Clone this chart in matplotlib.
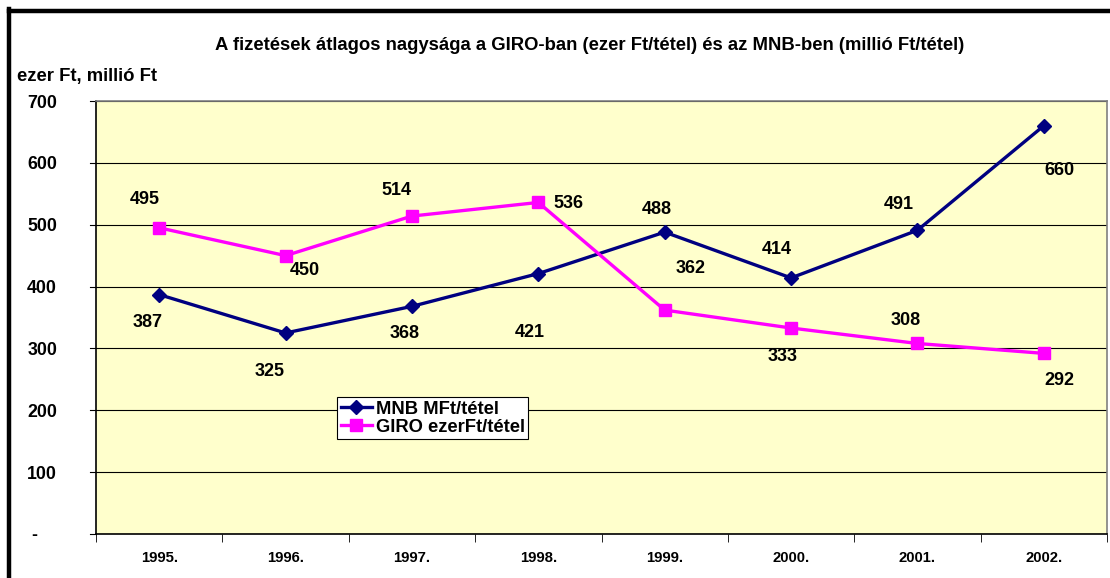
import matplotlib
matplotlib.use('Agg')
import matplotlib.pyplot as plt
from matplotlib.lines import Line2D
from matplotlib.transforms import ScaledTranslation

plt.rcParams['font.family'] = ['Liberation Sans', 'DejaVu Sans']
plt.rcParams['font.weight'] = 'bold'

years = ['1995.', '1996.', '1997.', '1998.', '1999.', '2000.', '2001.', '2002.']
mnb = [387, 325, 368, 421, 488, 414, 491, 660]
giro = [495, 450, 514, 536, 362, 333, 308, 292]
yticks = [0, 100, 200, 300, 400, 500, 600, 700]
ytick_labels = ['-', '100', '200', '300', '400', '500', '600', '700']

# label offsets in pixels (dx, dy) relative to the point, dy up
mnb_off = [(-12, -28), (-16, -39), (-7, -27), (-9, -59), (-8, 23), (-14, 28), (-19, 26), (16, -45)]
giro_off = [(-14, 28), (19, -15), (-16, 26), (30, -1), (26, 42), (-8, -28), (-12, 23), (16, -27)]

fig = plt.figure(figsize=(11.1, 5.78), dpi=100)
ax = fig.add_axes([96/1110, 1 - 534/578, 1011/1110, 433/578])
ax.set_facecolor('#FFFFCC')

x = list(range(len(years)))
ax.plot(x, mnb, color='#000080', lw=2.4, marker='D', ms=7, label='MNB MFt/tétel', zorder=3)
ax.plot(x, giro, color='#FF00FF', lw=2.4, marker='s', ms=8.5, label='GIRO ezerFt/tétel', zorder=3)

px = 0.72
for i in x:
    ax.annotate(str(mnb[i]), (i, mnb[i]), xytext=(mnb_off[i][0]*px, mnb_off[i][1]*px),
                textcoords='offset points', ha='center', va='center', fontsize=13, fontweight='bold')
    ax.annotate(str(giro[i]), (i, giro[i]), xytext=(giro_off[i][0]*px, giro_off[i][1]*px),
                textcoords='offset points', ha='center', va='center', fontsize=13, fontweight='bold')

ax.set_xlim(-0.5, len(years) - 0.5)
ax.set_ylim(0, 700)
ax.set_yticks(yticks)
ax.set_yticklabels(ytick_labels, fontsize=12.8, fontweight='bold')
ax.set_xticks(x)
ax.set_xticklabels(years, fontsize=10.7, fontweight='bold')
ax.tick_params(axis='x', length=0, pad=12)
ax.tick_params(axis='y', length=0, pad=28)
ax.set_xticks([i - 0.5 for i in range(len(years) + 1)], minor=True)
ax.tick_params(axis='x', which='minor', length=6, direction='out', color='black')
for yv in yticks:
    ax.plot([-0.5 - 0.048, -0.5], [yv, yv], color='black', lw=0.8, clip_on=False)
ax.grid(axis='y', color='black', lw=0.8)
ax.set_axisbelow(True)
for s in ['top', 'right']:
    ax.spines[s].set_color('#808080')
    ax.spines[s].set_linewidth(1.2)
for s in ['left', 'bottom']:
    ax.spines[s].set_color('black')
    ax.spines[s].set_linewidth(1.2)

for lab in ax.get_yticklabels():
    lab.set_horizontalalignment('right')
    if lab.get_text() == '-':
        lab.set_transform(lab.get_transform() + ScaledTranslation(-0.2, 0, fig.dpi_scale_trans))

leg = ax.legend(loc='upper left', bbox_to_anchor=((337-96)/1011, (534-397)/433),
                frameon=True, fancybox=False, edgecolor='black', facecolor='white',
                framealpha=1, fontsize=13.2, handlelength=1.7, handletextpad=0.2,
                borderpad=0.2, labelspacing=0.05, borderaxespad=0)
leg.get_frame().set_linewidth(0.8)
for t in leg.get_texts():
    t.set_fontweight('bold')

fig.text(590/1110, 1 - 46/578,
         'A fizetések átlagos nagysága a GIRO-ban (ezer Ft/tétel) és az MNB-ben (millió Ft/tétel)',
         ha='center', va='center', fontsize=13.3, fontweight='bold')
fig.text(17/1110, 1 - 76/578, 'ezer Ft, millió Ft', ha='left', va='center',
         fontsize=13.3, fontweight='bold')

# chart-area border (top and left visible)
fig.add_artist(Line2D([9/1110, 9/1110], [0, 1 - 9/578], transform=fig.transFigure,
                      color='black', lw=3.2, solid_capstyle='projecting'))
fig.add_artist(Line2D([9/1110, 1], [1 - 11/578, 1 - 11/578], transform=fig.transFigure,
                      color='black', lw=3.2, solid_capstyle='projecting'))

fig.savefig('out.png', dpi=100)
